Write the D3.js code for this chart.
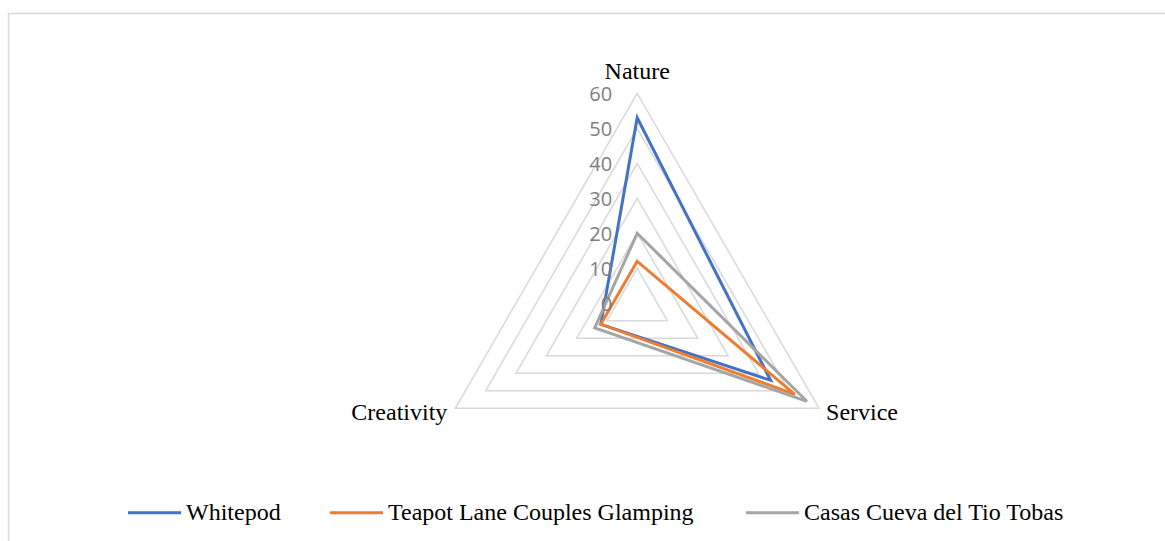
<!DOCTYPE html>
<html>
<head>
<meta charset="utf-8">
<script src="https://cdn.jsdelivr.net/npm/d3@7"></script>
<style>
  html, body { margin: 0; padding: 0; background: #fff; }
  svg { display: block; }
</style>
</head>
<body>
<svg id="chart" width="1165" height="541"></svg>
<script>
// Categories on the radar axes (clockwise from the top)
const categories = ["Nature", "Service", "Creativity"];

// Series names and their scores per category
const seriesNames = ["Whitepod", "Teapot Lane Couples Glamping", "Casas Cueva del Tio Tobas"];
const whitepod = [53, 44, 12];
const teapotLane = [12, 52, 12];
const casasCueva = [20, 56, 14];

// Radial tick values
const tickValues = [0, 10, 20, 30, 40, 50, 60];

const seriesColors = ["#4472C4", "#ED7D31", "#A5A5A5"];
const seriesData = [whitepod, teapotLane, casasCueva];

const svg = d3.select("#chart");
const W = 1165, H = 541;

// Chart area frame (runs off the right and bottom edges)
svg.append("rect")
  .attr("x", 8.5).attr("y", 13.5)
  .attr("width", W + 20).attr("height", H + 20)
  .attr("fill", "none").attr("stroke", "#d9d9d9").attr("stroke-width", 1.5);

const cx = 637.2, cy = 303.3, R = 210;
const r = d3.scaleLinear().domain([0, 60]).range([0, R]);
const angle = d3.scalePoint().domain(categories).range([0, 2 * Math.PI * 2 / 3]);

const g = svg.append("g").attr("transform", `translate(${cx},${cy})`);

function pt(cat, v) {
  const a = angle(cat);
  return [r(v) * Math.sin(a), -r(v) * Math.cos(a)];
}

// Grid polygons
const polyLine = d3.line().curve(d3.curveLinearClosed);
g.selectAll("path.grid")
  .data(tickValues.filter(t => t > 0))
  .join("path")
  .attr("class", "grid")
  .attr("d", t => polyLine(categories.map(c => pt(c, t))))
  .attr("fill", "none")
  .attr("stroke", "#d9d9d9")
  .attr("stroke-width", 1.5);

// Series outlines
seriesData.forEach((vals, i) => {
  g.append("path")
    .attr("d", polyLine(categories.map((c, k) => pt(c, vals[k]))))
    .attr("fill", "none")
    .attr("stroke", seriesColors[i])
    .attr("stroke-width", 3)
    .attr("stroke-linejoin", "miter");
});

// Radial tick labels along the Nature axis
g.selectAll("text.tick")
  .data(tickValues)
  .join("text")
  .attr("class", "tick")
  .attr("x", -25)
  .attr("y", t => -r(t))
  .attr("dy", "0.36em")
  .attr("text-anchor", "end")
  .attr("font-family", "'Open Sans', 'Liberation Sans', sans-serif")
  .attr("font-size", 20)
  .attr("fill", "#7f7f7f")
  .text(d => d);

// Category labels
const labelPos = {
  "Nature": { dx: 0, dy: -14, anchor: "middle" },
  "Service": { dx: 7, dy: 12, anchor: "start" },
  "Creativity": { dx: -8, dy: 12, anchor: "end" }
};
categories.forEach(c => {
  const [x, y] = pt(c, 60);
  const p = labelPos[c];
  g.append("text")
    .attr("x", x + p.dx)
    .attr("y", y + p.dy)
    .attr("text-anchor", p.anchor)
    .attr("font-family", "'Liberation Serif', 'Times New Roman', serif")
    .attr("font-size", 24)
    .attr("fill", "#000")
    .text(c);
});

// Legend
const legendX = [128, 330, 746];
const legendY = 512.7;
const legend = svg.append("g");
seriesNames.forEach((name, i) => {
  legend.append("line")
    .attr("x1", legendX[i]).attr("x2", legendX[i] + 53)
    .attr("y1", legendY).attr("y2", legendY)
    .attr("stroke", seriesColors[i]).attr("stroke-width", 3);
  legend.append("text")
    .attr("x", legendX[i] + 58)
    .attr("y", legendY + 7)
    .attr("font-family", "'Liberation Serif', 'Times New Roman', serif")
    .attr("font-size", 24)
    .attr("fill", "#000")
    .text(name);
});
</script>
</body>
</html>
